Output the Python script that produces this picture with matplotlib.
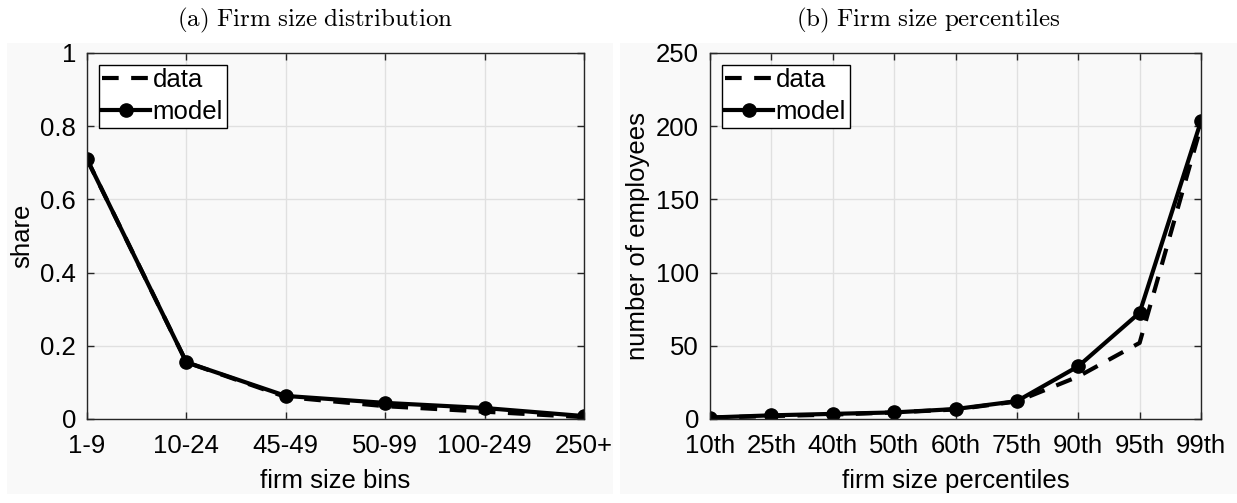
import matplotlib
matplotlib.use('Agg')
import matplotlib.pyplot as plt
from matplotlib.patches import Rectangle

# Firm size distribution by bin
bins = ['1-9', '10-24', '45-49', '50-99', '100-249', '250+']
share_data = [0.71, 0.155, 0.06, 0.035, 0.02, 0.005]
share_model = [0.71, 0.155, 0.063, 0.044, 0.030, 0.008]

# Firm size percentiles
pct_labels = ['10th', '25th', '40th', '50th', '60th', '75th', '90th', '95th', '99th']
pct_data = [1, 2, 3, 4.5, 6.5, 12, 29, 52, 200]
pct_model = [1, 2.5, 3.5, 4.5, 6.8, 12.2, 36, 72.6, 203.5]

plt.rcParams['font.family'] = ['Liberation Sans', 'DejaVu Sans']
plt.rcParams['mathtext.fontset'] = 'cm'

W, H = 1237, 503
fig = plt.figure(figsize=(W / 100, H / 100), dpi=100, facecolor='white')

panel_col = '#f9f9f9'
# grey panel behind each subplot
fig.patches.append(Rectangle((7 / W, 9 / H), (613 - 7) / W, (494 - 43) / H, transform=fig.transFigure,
                             facecolor=panel_col, edgecolor='none', zorder=-5))
fig.patches.append(Rectangle((620 / W, 9 / H), (W - 620) / W, (494 - 43) / H, transform=fig.transFigure,
                             facecolor=panel_col, edgecolor='none', zorder=-5))

bottom = (H - 419) / H
height = (419 - 53) / H
ax1 = fig.add_axes([87 / W, bottom, (584 - 87) / W, height])
ax2 = fig.add_axes([710 / W, bottom, (1201 - 710) / W, height])

fs = 18.5


def style(ax):
    ax.set_facecolor(panel_col)
    ax.grid(True, color='#e0e0e0', linewidth=1.0)
    ax.set_axisbelow(True)
    for s in ax.spines.values():
        s.set_color('#262626')
        s.set_linewidth(1.0)
    ax.tick_params(direction='in', top=True, right=True, length=5, width=1,
                   color='#262626', labelsize=fs, labelcolor='black')
    ax.tick_params(axis='x', pad=11)
    ax.tick_params(axis='y', pad=8)


def draw(ax, xs, data, model):
    ax.plot(xs, data, color='black', linewidth=3, linestyle=(0, (4, 3)), label='data')
    ax.plot(xs, model, color='black', linewidth=3, marker='o', markersize=9.5, label='model')
    leg = ax.legend(loc='upper left', fontsize=fs, frameon=True, fancybox=False,
                    handlelength=1.85, handletextpad=0.1, borderpad=0.15,
                    labelspacing=0.3, borderaxespad=0.45)
    leg.get_frame().set_edgecolor('black')
    leg.get_frame().set_linewidth(1.0)
    leg.get_frame().set_facecolor('white')
    leg.get_frame().set_alpha(1)


style(ax1)
x1 = list(range(len(bins)))
draw(ax1, x1, share_data, share_model)
ax1.set_xlim(0, len(bins) - 1)
ax1.set_ylim(0, 1)
ax1.set_xticks(x1)
ax1.set_xticklabels(bins)
ax1.set_yticks([0, 0.2, 0.4, 0.6, 0.8, 1])
ax1.set_yticklabels(['0', '0.2', '0.4', '0.6', '0.8', '1'])
ax1.set_xlabel('firm size bins', fontsize=fs, labelpad=8)
ax1.set_ylabel('share', fontsize=fs, labelpad=4)

style(ax2)
x2 = list(range(len(pct_labels)))
draw(ax2, x2, pct_data, pct_model)
ax2.set_xlim(0, len(pct_labels) - 1)
ax2.set_ylim(0, 250)
ax2.set_xticks(x2)
ax2.set_xticklabels(pct_labels)
ax2.set_yticks([0, 50, 100, 150, 200, 250])
ax2.set_xlabel('firm size percentiles', fontsize=fs, labelpad=8)
ax2.set_ylabel('number of employees', fontsize=fs, labelpad=4)

fig.text(315 / W, 1 - 20 / H, r'$\mathrm{(a)\ Firm\ size\ distribution}$',
         ha='center', va='center', fontsize=18)
fig.text(928 / W, 1 - 20 / H, r'$\mathrm{(b)\ Firm\ size\ percentiles}$',
         ha='center', va='center', fontsize=18)

fig.savefig('out.png', dpi=100, facecolor='white')
